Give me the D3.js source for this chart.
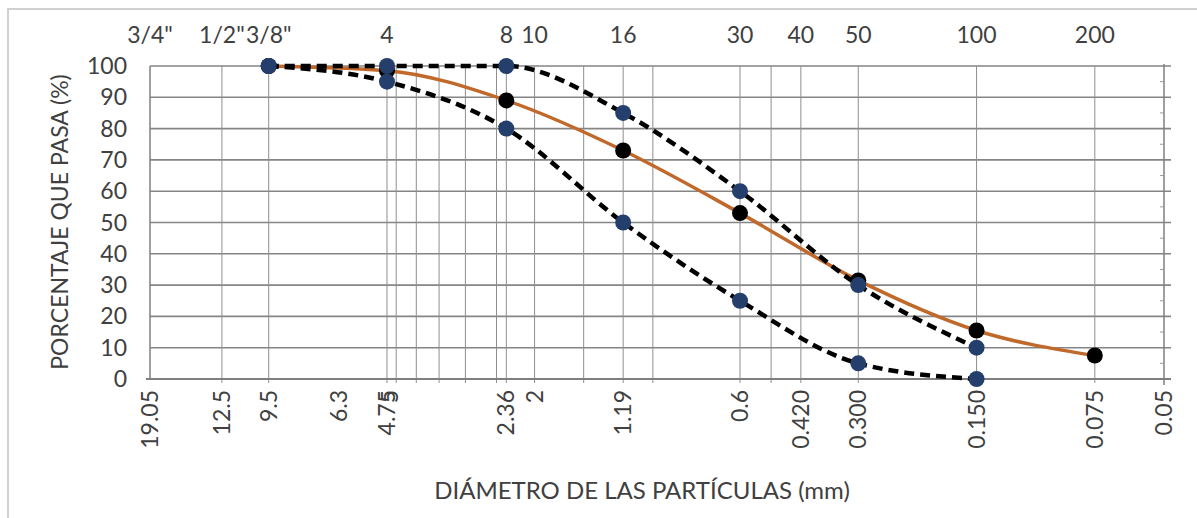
<!DOCTYPE html>
<html>
<head>
<meta charset="utf-8">
<script src="https://cdn.jsdelivr.net/npm/d3@7"></script>
<style>
body { margin: 0; background: #fff; }
text { font-family: Lato, "Open Sans", sans-serif; fill: #404040; }
</style>
</head>
<body>
<div id="chart"></div>
<script>
// sieve openings (mm) and % passing
var limitSieves = [9.5, 4.75, 2.36, 1.19, 0.6, 0.3, 0.15];
var upperLimit = [100, 100, 100, 85, 60, 30, 10];
var lowerLimit = [100, 95, 80, 50, 25, 5, 0];
var sampleSieves = [9.5, 4.75, 2.36, 1.19, 0.6, 0.3, 0.15, 0.075];
var sampleValues = [100, 98.5, 89, 73, 53, 31.5, 15.5, 7.5];

// axis text
var yTicks = [0, 10, 20, 30, 40, 50, 60, 70, 80, 90, 100];
var bottomTickValues = [19.05, 12.5, 9.5, 6.3, 4.75, 4.68, 2.36, 2, 1.19, 0.6, 0.42, 0.3, 0.15, 0.075, 0.05];
var bottomTickText = ["19.05", "12.5", "9.5", "6.3", "4.75", "5", "2.36", "2", "1.19", "0.6", "0.420", "0.300", "0.150", "0.075", "0.05"];
var sieveOpenings = [19.05, 12.5, 9.5, 4.75, 2.36, 2, 1.19, 0.6, 0.42, 0.3, 0.15, 0.075];
var sieveNames = ['3/4"', '1/2"', '3/8"', '4', '8', '10', '16', '30', '40', '50', '100', '200'];
var gridDiameters = [12.5, 9.5, 4.75, 4.5, 4, 3.5, 3, 2.5, 2.36, 2, 1.5, 1.19, 1, 0.6, 0.5, 0.42, 0.3, 0.15, 0.075];

var width = 1197, height = 518;
var svg = d3.select("#chart").append("svg")
    .attr("width", width)
    .attr("height", height);

// outer chart frame (cropped on right and bottom)
svg.append("rect")
    .attr("x", 8).attr("y", 9)
    .attr("width", 1200).attr("height", 600)
    .attr("fill", "none")
    .attr("stroke", "#d0d0d0")
    .attr("stroke-width", 2);

var x = d3.scaleLog().domain([19.05, 0.05]).range([150, 1164]);
var y = d3.scaleLinear().domain([0, 100]).range([379, 66]);

var grid = svg.append("g");

// horizontal grid
grid.selectAll(".hgrid").data(yTicks.filter(function(d) { return d > 0; }))
    .enter().append("line")
    .attr("x1", x(19.05)).attr("x2", x(0.05) + 7)
    .attr("y1", function(d) { return y(d); })
    .attr("y2", function(d) { return y(d); })
    .attr("stroke", "#858585")
    .attr("stroke-width", 1.6);

// vertical grid
grid.selectAll(".vgrid").data(gridDiameters)
    .enter().append("line")
    .attr("x1", function(d) { return x(d); })
    .attr("x2", function(d) { return x(d); })
    .attr("y1", y(100)).attr("y2", y(0) + 4)
    .attr("stroke", "#8f8f8f")
    .attr("stroke-width", 1);

// axes lines
grid.append("line")
    .attr("x1", x(19.05)).attr("x2", x(19.05))
    .attr("y1", y(100)).attr("y2", y(0))
    .attr("stroke", "#7f7f7f").attr("stroke-width", 1.5);
grid.append("line")
    .attr("x1", x(0.05)).attr("x2", x(0.05))
    .attr("y1", y(100) - 2).attr("y2", y(0) + 6)
    .attr("stroke", "#7f7f7f").attr("stroke-width", 1.5);
grid.append("line")
    .attr("x1", x(19.05) - 4).attr("x2", x(0.05) + 7)
    .attr("y1", y(0)).attr("y2", y(0))
    .attr("stroke", "#7f7f7f").attr("stroke-width", 2);

// minor ticks on right axis
grid.selectAll(".minor").data(yTicks.slice(0, -1))
    .enter().append("line")
    .attr("x1", x(0.05) - 4).attr("x2", x(0.05))
    .attr("y1", function(d) { return y(d + 5); })
    .attr("y2", function(d) { return y(d + 5); })
    .attr("stroke", "#9a9a9a");

// y tick labels
svg.append("g").selectAll("text").data(yTicks)
    .enter().append("text")
    .attr("x", 127)
    .attr("y", function(d) { return y(d); })
    .attr("dy", "0.35em")
    .attr("text-anchor", "end")
    .style("font-size", "23px")
    .text(function(d) { return d; });

// bottom tick labels (rotated)
svg.append("g").selectAll("text").data(bottomTickValues)
    .enter().append("text")
    .attr("transform", function(d) { return "translate(" + (x(d) + 8) + ",390) rotate(-90)"; })
    .attr("text-anchor", "end")
    .style("font-size", "23px")
    .text(function(d, i) { return bottomTickText[i]; });

// top sieve names
svg.append("g").selectAll("text").data(sieveOpenings)
    .enter().append("text")
    .attr("x", function(d) { return x(d); })
    .attr("y", 43)
    .attr("text-anchor", "middle")
    .style("font-size", "23px")
    .text(function(d, i) { return sieveNames[i]; });

// axis titles
svg.append("text")
    .attr("transform", "translate(68,222) rotate(-90)")
    .attr("text-anchor", "middle")
    .style("font-size", "23px")
    .text("PORCENTAJE QUE PASA (%)");
svg.append("text")
    .attr("x", 642).attr("y", 499)
    .attr("text-anchor", "middle")
    .style("font-size", "24px")
    .text("DIÁMETRO DE LAS PARTÍCULAS (mm)");

var line = d3.line()
    .x(function(d) { return x(d[0]); })
    .y(function(d) { return y(d[1]); })
    .curve(d3.curveMonotoneX);

function pairs(xs, ys) {
    return xs.map(function(v, i) { return [v, ys[i]]; });
}

var sample = pairs(sampleSieves, sampleValues);
var upper = pairs(limitSieves, upperLimit);
var lower = pairs(limitSieves, lowerLimit);

// sample gradation
svg.append("path").datum(sample)
    .attr("d", line)
    .attr("fill", "none")
    .attr("stroke", "#c0692b")
    .attr("stroke-width", 3.5);
svg.append("g").selectAll("circle").data(sample)
    .enter().append("circle")
    .attr("cx", function(d) { return x(d[0]); })
    .attr("cy", function(d) { return y(d[1]); })
    .attr("r", 8)
    .attr("fill", "#000");

// limits
[upper, lower].forEach(function(series) {
    svg.append("path").datum(series)
        .attr("d", line)
        .attr("fill", "none")
        .attr("stroke", "#000")
        .attr("stroke-width", 4.5)
        .attr("stroke-dasharray", "10,6");
    svg.append("g").selectAll("circle").data(series)
        .enter().append("circle")
        .attr("cx", function(d) { return x(d[0]); })
        .attr("cy", function(d) { return y(d[1]); })
        .attr("r", 8)
        .attr("fill", "#243f6b");
});
</script>
</body>
</html>
